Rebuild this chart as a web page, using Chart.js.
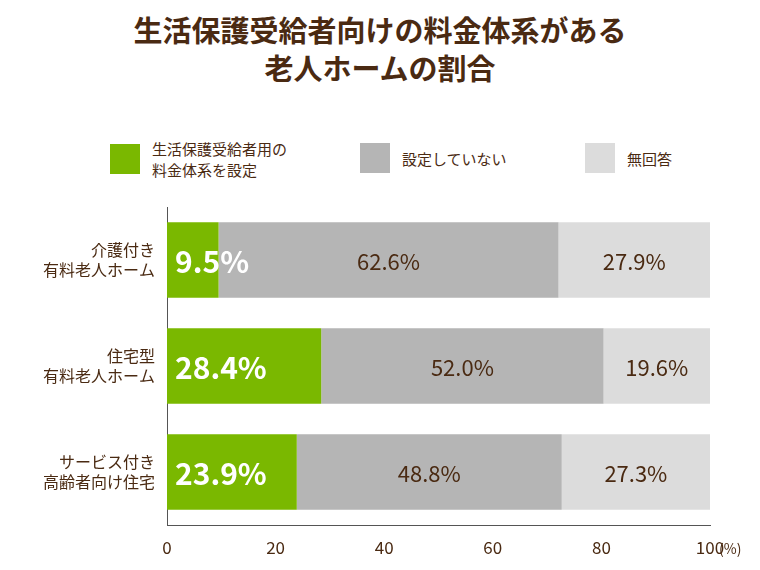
<!DOCTYPE html><html><head><meta charset="utf-8">
<script src="https://cdn.jsdelivr.net/npm/chart.js@4"></script>
<style>
body{margin:0;width:760px;height:570px;background:#fff;font-family:"Noto Sans CJK JP",sans-serif;color:#4a2a12;position:relative;overflow:hidden}
#t{position:absolute;top:10px;left:0;width:760px;text-align:center;font-weight:bold;font-size:29px;line-height:38px;color:#4a2a12}
.lg{position:absolute;top:138px;display:flex;align-items:center;font-size:15px;line-height:21px;color:#4a2a12}
.sw{width:30px;height:30px;margin-right:12px}
canvas{position:absolute;left:0;top:0}
</style></head><body>
<div id="t">生活保護受給者向けの料金体系がある<br>老人ホームの割合</div>
<div class="lg" style="left:110px"><div class="sw" style="background:#7ab800"></div><div>生活保護受給者用の<br>料金体系を設定</div></div>
<div class="lg" style="left:360px;top:143px"><div class="sw" style="background:#b5b5b5"></div><div>設定していない</div></div>
<div class="lg" style="left:585px;top:143px"><div class="sw" style="background:#dcdcdc"></div><div>無回答</div></div>
<canvas id="c" width="760" height="570"></canvas>
<script>
const categories=[["介護付き","有料老人ホーム"],["住宅型","有料老人ホーム"],["サービス付き","高齢者向け住宅"]];
const setValues=[9.5,28.4,23.9];
const notSetValues=[62.6,52.0,48.8];
const noAnswerValues=[27.9,19.6,27.3];
const xTicks=[0,20,40,60,80,100];
const brown="#4a2a12";
const labelPlugin={id:"lbl",afterDatasetsDraw(ch){const ctx=ch.ctx;ch.data.datasets.forEach((ds,i)=>{ch.getDatasetMeta(i).data.forEach((b,j)=>{const v=ds.data[j];ctx.save();ctx.textAlign="center";ctx.textBaseline="middle";
if(i===0){ctx.fillStyle="#fff";ctx.font="bold 30px 'Noto Sans CJK JP'";ctx.textAlign="left";ctx.fillText(v.toFixed(1)+"%",ch.chartArea.left+8,b.y+2);}
else{ctx.fillStyle=brown;ctx.font="22px 'Noto Sans CJK JP'";ctx.fillText(v.toFixed(1)+"%",(b.base+b.x)/2,b.y+2);}
ctx.restore();});});
ctx.save();ctx.fillStyle=brown;ctx.font="14px 'Noto Sans CJK JP'";ctx.textBaseline="middle";ctx.fillText("(%)",719,549);ctx.restore();}};
new Chart(document.getElementById("c"),{type:"bar",
data:{labels:categories,datasets:[
{data:setValues,backgroundColor:"#7ab800"},
{data:notSetValues,backgroundColor:"#b5b5b5"},
{data:noAnswerValues,backgroundColor:"#dcdcdc"}]},
options:{indexAxis:"y",responsive:false,animation:false,devicePixelRatio:1,
layout:{padding:{left:0,right:50,top:207,bottom:10}},
datasets:{bar:{barPercentage:0.71,categoryPercentage:1}},
plugins:{legend:{display:false},tooltip:{enabled:false}},
scales:{
x:{stacked:true,min:0,max:100,afterBuildTicks(s){s.ticks=xTicks.map(v=>({value:v}));},afterFit(s){s.height=35;},
grid:{display:false,drawTicks:false},border:{color:"#555",width:1},
ticks:{color:brown,font:{size:17,family:"'Noto Sans CJK JP'"},padding:12}},
y:{stacked:true,afterFit(s){s.width=167;},grid:{display:false,drawTicks:false},border:{color:"#555",width:1},
ticks:{color:brown,font:{size:16,family:"'Noto Sans CJK JP'"},padding:12}}}},
plugins:[labelPlugin]});
</script></body></html>
